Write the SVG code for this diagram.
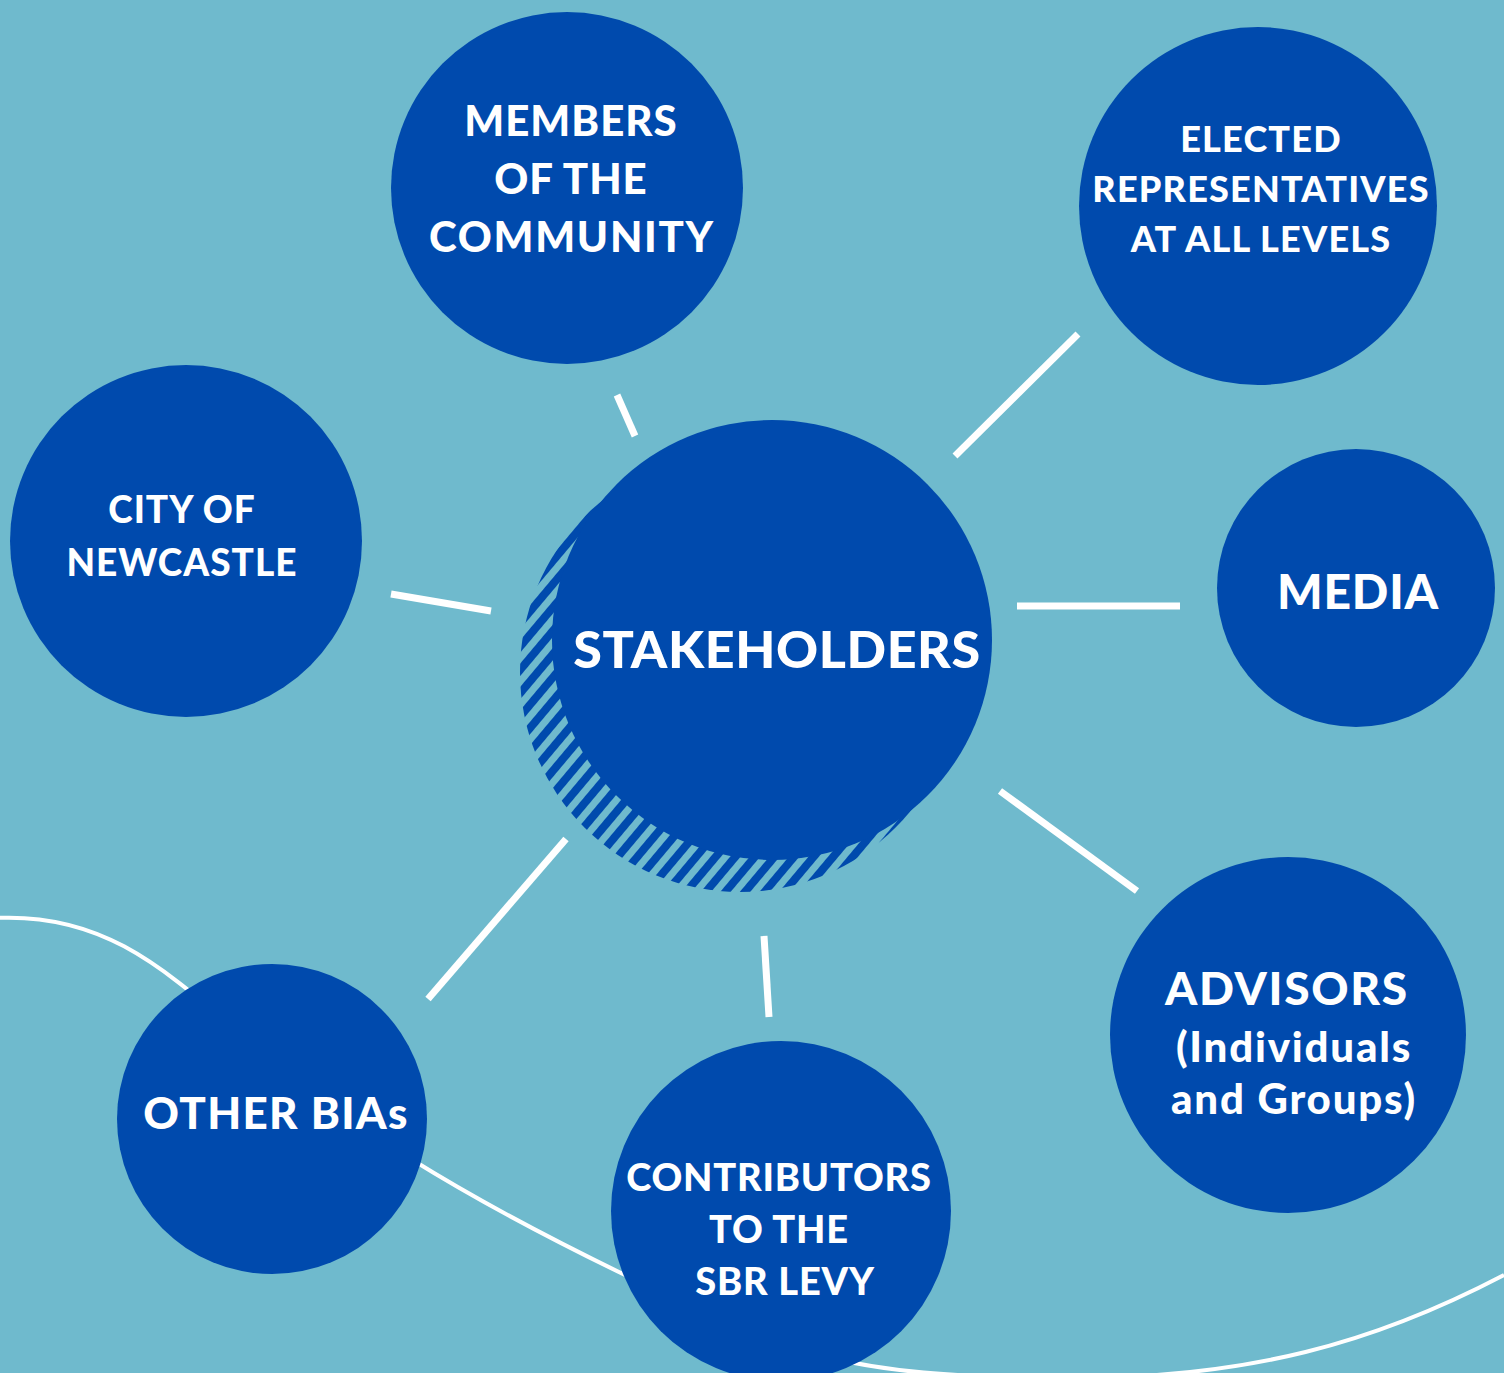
<svg xmlns="http://www.w3.org/2000/svg" width="1504" height="1373" viewBox="0 0 1504 1373">
<defs>
<pattern id="hatch" width="15" height="15" patternUnits="userSpaceOnUse" patternTransform="rotate(40)">
<rect x="0" y="0" width="8" height="15" fill="#004aad"/>
</pattern>
<style>
.node{fill:#004aad}
.lbl{fill:#fff;font-family:Lato,"Liberation Sans",sans-serif;font-weight:900;text-anchor:middle}
.con line{stroke:#fff;stroke-width:7}
</style>
</defs>
<rect width="1504" height="1373" fill="#6fbacd"/>
<path d="M-5,918 C110,912 170,975 260,1050 S450,1190 625,1275 S850,1375 1050,1378 S1380,1340 1504,1275" fill="none" stroke="#fff" stroke-width="4"/>
<g class="con">
<line x1="617" y1="395" x2="635" y2="436"/>
<line x1="955" y1="456" x2="1078" y2="334"/>
<line x1="391" y1="594" x2="491" y2="611"/>
<line x1="1017" y1="606" x2="1180" y2="606"/>
<line x1="1000" y1="791" x2="1137" y2="891"/>
<line x1="566" y1="839" x2="428" y2="999"/>
<line x1="764" y1="936" x2="769" y2="1017"/>
</g>
<g id="stakeholders">
<circle cx="740" cy="672" r="220" fill="url(#hatch)"/>
<circle class="node" cx="772" cy="640" r="220"/>
<text class="lbl" x="777" y="668" font-size="52" letter-spacing="0.6">STAKEHOLDERS</text>
</g>
<g id="members">
<circle class="node" cx="567" cy="188" r="176"/>
<text class="lbl" x="571" y="136" font-size="42" letter-spacing="1">MEMBERS</text>
<text class="lbl" x="571" y="194" font-size="42" letter-spacing="1">OF THE</text>
<text class="lbl" x="572" y="252" font-size="42" letter-spacing="1.7">COMMUNITY</text>
</g>
<g id="elected">
<circle class="node" cx="1258" cy="206" r="179"/>
<text class="lbl" x="1261" y="152" font-size="36" letter-spacing="1.2">ELECTED</text>
<text class="lbl" x="1261" y="202" font-size="36" letter-spacing="1.2">REPRESENTATIVES</text>
<text class="lbl" x="1261" y="252" font-size="36" letter-spacing="1.2">AT ALL LEVELS</text>
</g>
<g id="city">
<circle class="node" cx="186" cy="541" r="176"/>
<text class="lbl" x="182" y="523" font-size="37" letter-spacing="1">CITY OF</text>
<text class="lbl" x="182" y="576" font-size="37" letter-spacing="1">NEWCASTLE</text>
</g>
<g id="media">
<circle class="node" cx="1356" cy="588" r="139"/>
<text class="lbl" x="1358" y="609" font-size="48" letter-spacing="0.8">MEDIA</text>
</g>
<g id="advisors">
<circle class="node" cx="1288" cy="1035" r="178"/>
<text class="lbl" x="1287" y="1005" font-size="46" letter-spacing="1.7">ADVISORS</text>
<text class="lbl" x="1294" y="1062" font-size="42" letter-spacing="1.8">(Individuals</text>
<text class="lbl" x="1294" y="1114" font-size="42" letter-spacing="1.8">and Groups)</text>
</g>
<g id="other-bias">
<circle class="node" cx="272" cy="1119" r="155"/>
<text class="lbl" x="276" y="1129" font-size="44" letter-spacing="1.3">OTHER BIAs</text>
</g>
<g id="contributors">
<circle class="node" cx="781" cy="1211" r="170"/>
<text class="lbl" x="779" y="1191" font-size="38" letter-spacing="0.8">CONTRIBUTORS</text>
<text class="lbl" x="779" y="1243" font-size="38" letter-spacing="0.8">TO THE</text>
<text class="lbl" x="785" y="1295" font-size="38" letter-spacing="0.8">SBR LEVY</text>
</g>
</svg>
